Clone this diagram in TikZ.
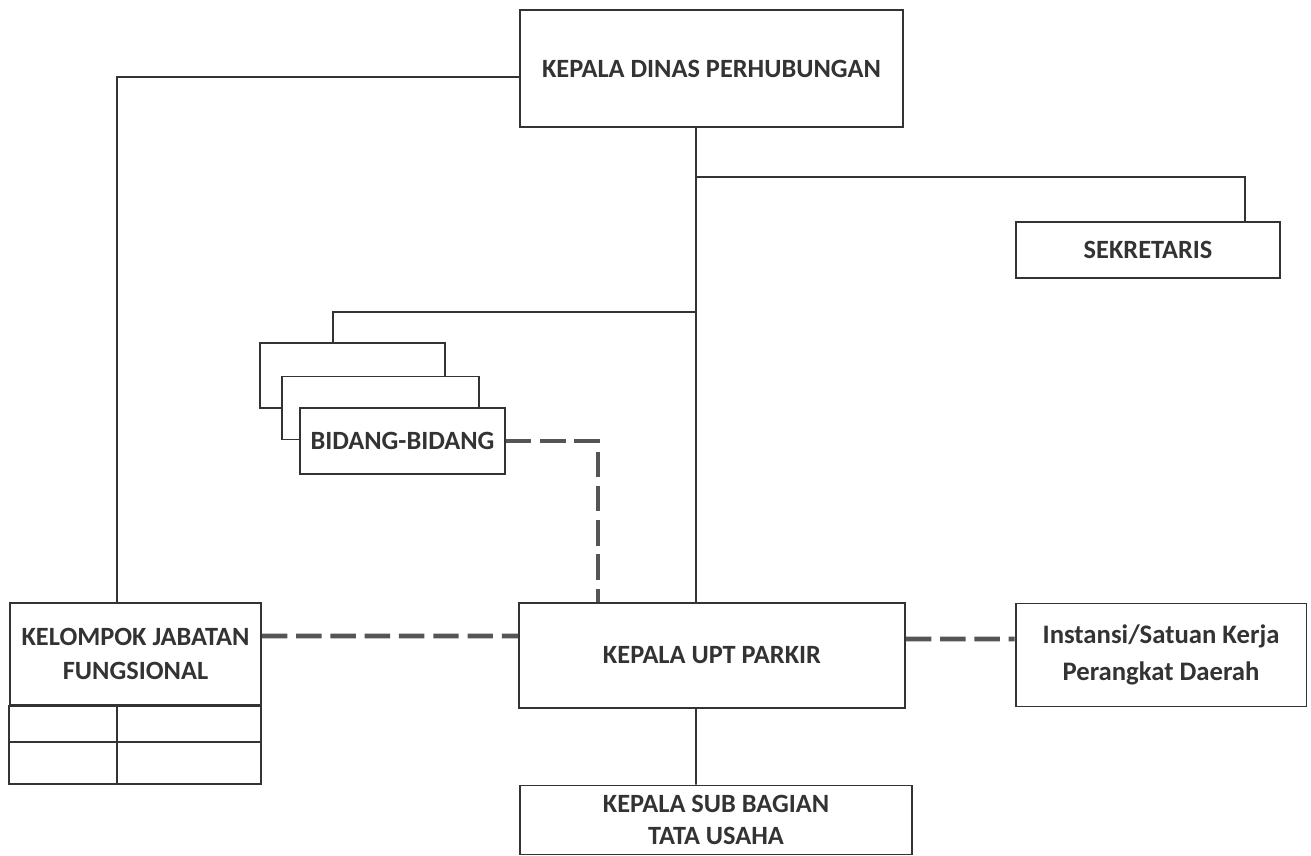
\documentclass[tikz,border=0pt]{standalone}
\usepackage{fontspec}
\setmainfont{Carlito}
\definecolor{linec}{HTML}{333333}
\definecolor{dashc}{HTML}{555555}
\tikzset{
  unit/.style={draw=linec, line width=1.1pt, fill=white, inner sep=0pt, align=center,
    text=linec, font=\bfseries\fontsize{15}{19}\selectfont},
  link/.style={draw=linec, line width=1.1pt},
  dashlink/.style={draw=dashc, line width=2.8pt, dash pattern=on 14.5pt off 5pt}
}
\begin{document}
\begin{tikzpicture}[x=0.02cm,y=-0.02cm]
\useasboundingbox (0,0) rectangle (1311,855);
\node[unit, minimum width=7.66cm, minimum height=2.34cm] (kadis) at (711.5,68.5) {KEPALA DINAS PERHUBUNGAN};
%
\node[unit, minimum width=5.28cm, minimum height=1.12cm] (sekr) at (1148,250) {SEKRETARIS};
%
\node[unit, minimum width=3.7cm, minimum height=1.3cm] (bid3) at (352.5,375.5) {};
\node[unit, minimum width=3.94cm, minimum height=1.26cm] (bid2) at (380.5,408) {};
\node[unit, minimum width=4.1cm, minimum height=1.32cm] (bid) at (402.5,441) {BIDANG-BIDANG};
%
\node[unit, minimum width=7.72cm, minimum height=2.1cm] (upt) at (712,655.5) {KEPALA UPT PARKIR};
%
\node[unit, minimum width=5.02cm, minimum height=2.04cm] (kjf) at (135.5,654) {KELOMPOK JABATAN\\FUNGSIONAL};
\draw[link] (kjf.south west) rectangle (261,784);
\draw[link] (10,742) -- (261,742);
\draw[link] (117,705) -- (117,784);
%
\node[unit, font=\bfseries\fontsize{15.2}{21}\selectfont, minimum width=5.82cm, minimum height=2.06cm] (inst) at (1161,655) {Instansi/Satuan Kerja\\Perangkat Daerah};
%
\node[unit, font=\bfseries\fontsize{15}{18}\selectfont, minimum width=7.84cm, minimum height=1.38cm] (subbag) at (716,820) {KEPALA SUB BAGIAN\\TATA USAHA};
%
\coordinate (j1) at (696,177);
\coordinate (j2) at (696,312);
\draw[link] ([yshift=-0.17cm]kadis.west) -| ([xshift=-0.37cm]kjf.north);
\draw[link] ([xshift=-0.31cm]kadis.south) -- ([xshift=-0.32cm]upt.north);
\draw[link] (j1) -| ([xshift=1.94cm]sekr.north);
\draw[link] (j2) -| ([xshift=-0.39cm]bid3.north);
\draw[link] ([xshift=-0.32cm]upt.south) -- ([xshift=-0.4cm]subbag.north);
%
\draw[dashlink] (bid.east) -| ([xshift=-2.28cm]upt.north);
\draw[dashlink] ([yshift=0.36cm]kjf.east) -- ([yshift=0.39cm]upt.west);
\draw[dashlink] ([yshift=0.33cm]upt.east) -- ([yshift=0.32cm]inst.west);
\end{tikzpicture}
\end{document}
